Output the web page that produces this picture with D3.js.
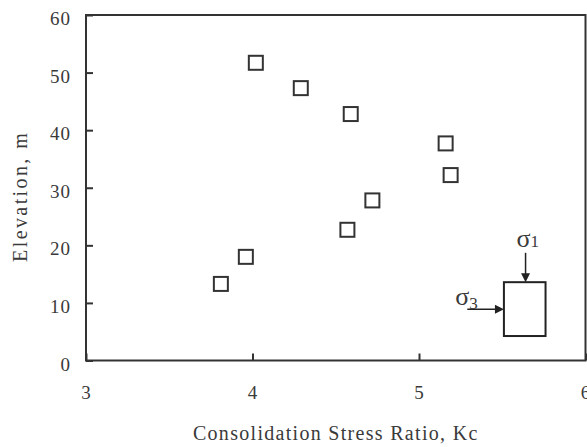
<!DOCTYPE html>
<html>
<head>
<meta charset="utf-8">
<script src="https://cdn.jsdelivr.net/npm/d3@7"></script>
<style>
  body { margin: 0; background: #fff; }
  svg { display: block; }
  svg text { font-family: 'Liberation Serif', 'Times New Roman', 'DejaVu Serif', serif !important; fill: #3a3a3a; }
</style>
</head>
<body>
<svg id="chart" width="587" height="447"></svg>
<script>
// stress ratio Kc vs elevation
var kc = [4.02, 4.29, 4.59, 5.16, 5.19, 4.72, 4.57, 3.96, 3.81];
var elevation = [51.7, 47.3, 42.8, 37.7, 32.2, 27.8, 22.7, 18.0, 13.3];

var xTicks = [3, 4, 5, 6];
var yTicks = [0, 10, 20, 30, 40, 50, 60];

var xTitle = 'Consolidation Stress Ratio, Kc';
var yTitle = 'Elevation, m';

// inset sketch of the sample under sigma1 / sigma3 (data units)
var sampleBox = [5.51, 5.76, 4.25, 13.6];   // x0, x1, y0, y1
var sigma1Arrow = [5.64, 18.7];             // x, y of tail
var sigma3Arrow = [5.29, 8.9];              // x of tail, y

var serif = "'Liberation Serif', 'Times New Roman', serif";

var svg = d3.select('#chart'),
    margin = {top: 15, left: 86, right: 1.5, bottom: 86.5},
    width = 587 - margin.left - margin.right,
    height = 447 - margin.top - margin.bottom,
    ink = '#333';

var x = d3.scaleLinear().domain([3, 6]).range([0, width]),
    y = d3.scaleLinear().domain([0, 60]).range([height, 0]);

var g = svg.append('g')
    .attr('transform', 'translate(' + margin.left + ',' + margin.top + ')');

// axes, ticks pointing inward
var yAxis = g.append('g')
    .call(d3.axisLeft(y).tickValues(yTicks).tickFormat(d3.format('d'))
        .tickSizeInner(-7).tickSizeOuter(0).tickPadding(15));
var xAxis = g.append('g')
    .attr('transform', 'translate(0,' + height + ')')
    .call(d3.axisBottom(x).tickValues(xTicks).tickFormat(d3.format('d'))
        .tickSizeInner(-7).tickSizeOuter(0).tickPadding(25));

[xAxis, yAxis].forEach(function (a) {
    a.attr('font-family', serif);
    a.select('.domain').remove();
    a.selectAll('.tick line').attr('stroke', ink).attr('stroke-width', 2);
    a.selectAll('.tick text')
        .attr('font-size', 19)
        .style('letter-spacing', '1px')
        .attr('fill', '#3a3a3a');
});
yAxis.selectAll('.tick text').attr('dy', '0.5em');

// frame
g.append('rect')
    .attr('width', width)
    .attr('height', height)
    .attr('fill', 'none')
    .attr('stroke', ink)
    .attr('stroke-width', 2);

// titles
g.append('text')
    .attr('x', width / 2)
    .attr('y', height + 79)
    .attr('text-anchor', 'middle')
    .attr('font-family', serif)
    .attr('font-size', 20)
    .style('letter-spacing', '1.3px')
    .text(xTitle);

g.append('text')
    .attr('transform', 'translate(' + (-59) + ',' + (y(28.5)) + ')rotate(-90)')
    .attr('text-anchor', 'middle')
    .attr('font-family', serif)
    .attr('font-size', 20)
    .style('letter-spacing', '2.4px')
    .text(yTitle);

// points
g.selectAll('rect.pt')
    .data(d3.zip(kc, elevation))
    .enter().append('rect')
    .attr('class', 'pt')
    .attr('x', function (d) { return x(d[0]) - 7; })
    .attr('y', function (d) { return y(d[1]) - 7; })
    .attr('width', 14)
    .attr('height', 14)
    .attr('fill', 'none')
    .attr('stroke', ink)
    .attr('stroke-width', 2);

// inset
var inset = g.append('g').attr('font-family', serif);
inset.append('rect')
    .attr('x', x(sampleBox[0]))
    .attr('y', y(sampleBox[3]))
    .attr('width', x(sampleBox[1]) - x(sampleBox[0]))
    .attr('height', y(sampleBox[2]) - y(sampleBox[3]))
    .attr('fill', 'none')
    .attr('stroke', '#222')
    .attr('stroke-width', 2);

var tip1 = [x(sigma1Arrow[0]), y(sampleBox[3])],
    tip3 = [x(sampleBox[0]), y(sigma3Arrow[1])];

inset.append('line')
    .attr('x1', tip1[0]).attr('y1', y(sigma1Arrow[1]))
    .attr('x2', tip1[0]).attr('y2', tip1[1] - 6)
    .attr('stroke', '#222').attr('stroke-width', 1.5);
inset.append('path')
    .attr('d', 'M' + tip1[0] + ',' + tip1[1] + 'l-4.5,-9h9Z')
    .attr('fill', '#222');

inset.append('line')
    .attr('x1', x(sigma3Arrow[0])).attr('y1', tip3[1])
    .attr('x2', tip3[0] - 6).attr('y2', tip3[1])
    .attr('stroke', '#222').attr('stroke-width', 1.5);
inset.append('path')
    .attr('d', 'M' + tip3[0] + ',' + tip3[1] + 'l-9,-4.5v9Z')
    .attr('fill', '#222');

var s1 = inset.append('text')
    .attr('x', tip1[0] - 9)
    .attr('y', y(sigma1Arrow[1]) - 6)
    .attr('font-size', 26);
s1.append('tspan').text('σ');
s1.append('tspan').attr('font-size', 17).text('1');

var s3 = inset.append('text')
    .attr('x', x(sigma3Arrow[0]) - 12)
    .attr('y', tip3[1] - 4)
    .attr('font-size', 26);
s3.append('tspan').text('σ');
s3.append('tspan').attr('font-size', 17).attr('dy', 4).text('3');
</script>
</body>
</html>
